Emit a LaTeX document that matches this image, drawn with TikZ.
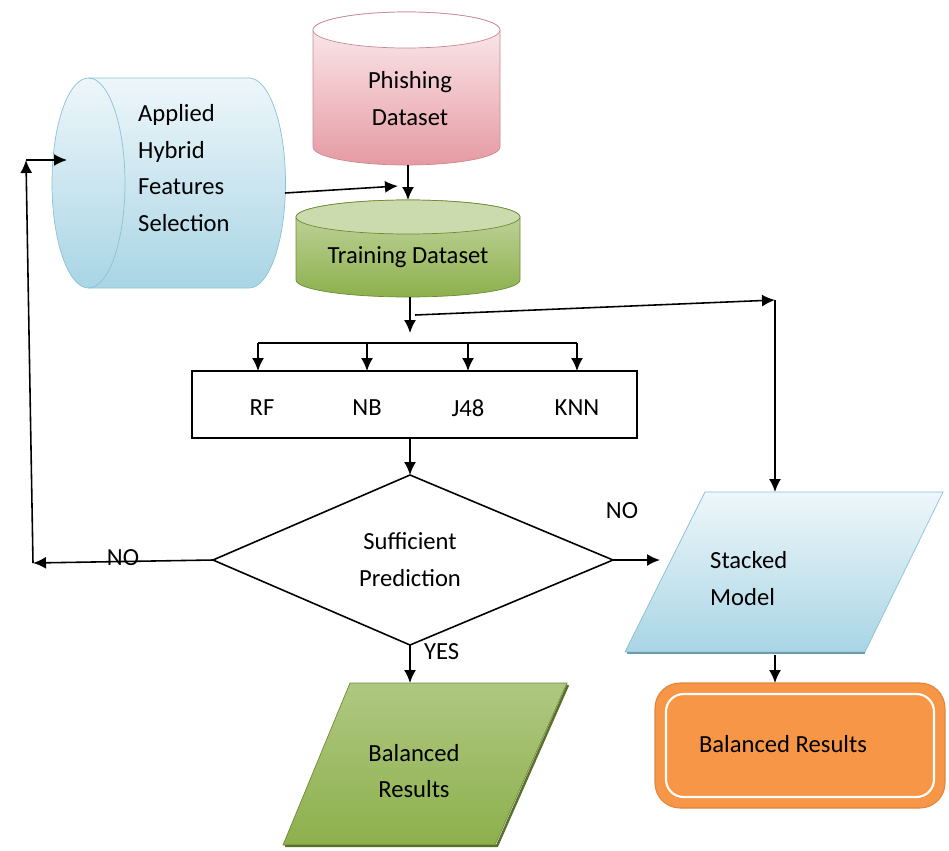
\documentclass[tikz,border=0pt]{standalone}
\usepackage{fontspec}
\setmainfont{Carlito}
\usepackage{tikz}
\usetikzlibrary{arrows.meta, positioning}

\definecolor{pinkfill}{HTML}{E69AA3}
\definecolor{pinkline}{HTML}{C98A92}
\definecolor{bluefill}{HTML}{A9D5E5}
\definecolor{blueline}{HTML}{8CC2D5}
\definecolor{greenfill}{HTML}{8DB04C}
\definecolor{greenline}{HTML}{6E8C36}
\definecolor{orangefill}{HTML}{F79646}

\tikzset{
    txt/.style={font=\fontsize{14}{17}\selectfont, align=center},
    arr/.style={-{Latex[length=2.6mm, width=2.4mm]}, line width=0.9pt},
    ln/.style={line width=0.9pt},
}

\begin{document}
\begin{tikzpicture}
    \useasboundingbox (0,0) rectangle (18.98,-17.02);

    % --- phishing dataset (upright drum) ---
    \shade[top color=pinkfill!15, bottom color=pinkfill, draw=pinkline]
        (6.26,-0.6) -- (6.26,-2.94) arc (180:360:1.87 and 0.36) -- (10.0,-0.6) arc (0:180:1.87 and 0.36) -- cycle;
    \draw[pinkline, fill=white] (8.13,-0.6) ellipse (1.87 and 0.36);
    \node[txt] (phish) at (8.2,-1.97) {Phishing\\[4pt]Dataset};

    % --- training dataset (upright drum) ---
    \shade[top color=greenfill!50, bottom color=greenfill, draw=greenline]
        (5.92,-4.34) -- (5.92,-5.6) arc (180:360:2.24 and 0.34) -- (10.4,-4.34) arc (0:180:2.24 and 0.34) -- cycle;
    \draw[greenline, fill=greenfill!45] (8.16,-4.34) ellipse (2.24 and 0.34);
    \node[txt] (train) at (8.16,-5.14) {Training Dataset};

    % --- feature selection (lying drum) ---
    \shade[top color=bluefill!20, bottom color=bluefill, draw=blueline]
        (1.77,-1.56) -- (4.98,-1.56) arc (90:-90:0.73 and 2.1) -- (1.77,-5.76) arc (270:90:0.73 and 2.1) -- cycle;
    \draw[blueline] (1.77,-1.56) arc (90:-90:0.73 and 2.1);
    \node[txt, align=left, anchor=west] (applied) at (2.64,-3.36)
          {Applied\\[4pt]Hybrid\\[4pt]Features\\[4pt]Selection};

    % --- base learners ---
    \node[draw, ln, minimum width=8.9cm, minimum height=1.34cm] (models) at (8.29,-8.09) {};
    \node[txt] (rf)  at (5.24,-8.16) {RF};
    \node[txt] (nb)  at (7.34,-8.16) {NB};
    \node[txt] (j48) at (9.36,-8.16) {J48};
    \node[txt] (knn) at (11.54,-8.16) {KNN};

    % --- decision ---
    \draw[ln, fill=white] (8.2,-9.5) -- (12.26,-11.2) -- (8.2,-12.9) -- (4.26,-11.2) -- cycle;
    \node[txt] (check) at (8.2,-11.2) {Sufficient\\[4pt]Prediction};

    % --- outputs ---
    \shade[top color=greenfill!70, bottom color=greenfill, draw=greenline]
        (7.0,-13.66) -- (11.34,-13.66) -- (9.9,-16.9) -- (5.66,-16.9) -- cycle;
    \draw[greenline!80!black, line width=1.4pt] (11.36,-13.7) -- (9.94,-16.92) -- (5.7,-16.92);
    \node[txt] (balA) at (8.28,-15.42) {Balanced\\[4pt]Results};

    \shade[top color=bluefill!20, bottom color=bluefill, draw=blueline]
        (14.1,-9.84) -- (18.86,-9.84) -- (17.3,-13.04) -- (12.5,-13.04) -- cycle;
    \draw[blueline!80!black, line width=1.2pt] (17.3,-13.06) -- (12.54,-13.06);
    \node[txt, align=left, anchor=west] (stacked) at (14.08,-11.57) {Stacked\\[4pt]Model};

    \draw[rounded corners=0.5cm, fill=orangefill, draw=orangefill!90!black, line width=0.6pt]
        (13.1,-13.66) rectangle (18.9,-16.16);
    \draw[rounded corners=0.35cm, draw=white, line width=1.2pt]
        (13.32,-13.88) rectangle (18.68,-15.94);
    \node[txt] (balB) at (15.66,-14.88) {Balanced Results};

    % --- junctions ---
    \coordinate (appliedR) at (5.7,-3.86);
    \coordinate (merge) at (7.96,-3.72);
    \coordinate (phishB) at (8.16,-3.3);
    \coordinate (trainT) at (8.16,-4.0);
    \coordinate (trainB) at (8.2,-5.94);
    \coordinate (fork) at (8.2,-6.66);
    \coordinate (split) at (8.3,-6.3);
    \coordinate (turn) at (15.5,-6.0);
    \coordinate (stackedT) at (15.5,-9.84);
    \coordinate (stackedL) at (13.2,-11.2);
    \coordinate (stackedB) at (15.5,-13.1);
    \coordinate (balBT) at (15.5,-13.66);
    \coordinate (modelsB) at (8.2,-8.76);
    \coordinate (checkT) at (8.2,-9.5);
    \coordinate (checkL) at (4.26,-11.2);
    \coordinate (checkR) at (12.26,-11.2);
    \coordinate (checkB) at (8.2,-12.9);
    \coordinate (balAT) at (8.2,-13.66);
    \coordinate (back) at (0.66,-11.26);
    \coordinate (up) at (0.52,-3.2);
    \coordinate (into) at (1.34,-3.2);

    % --- connectors ---
    \draw[arr] (appliedR) -- (merge);
    \draw[arr] (phishB) -- (trainT);
    \draw[arr] (trainB) -- (fork);
    \draw[ln] (5.16,-6.86) -- (11.54,-6.86);
    \foreach \x in {5.16,7.34,9.36,11.54}
        \draw[arr] (\x,-6.86) -- (\x,-7.42);
    \draw[arr] (split) -- (turn);
    \draw[arr] (turn) -- (stackedT);
    \draw[arr] (modelsB) -- (checkT);
    \draw[arr] (checkL) -- node[txt, pos=0.5, yshift=2pt] {NO} (back);
    \draw[arr] (back) -- (up);
    \draw[arr] (up) -- (into);
    \draw[arr] (checkR) -- (stackedL);
    \node[txt] at (12.44,-10.22) {NO};
    \draw[arr] (checkB) -- (balAT);
    \node[txt, anchor=west] at (8.36,-13.04) {YES};
    \draw[arr] (stackedB) -- (balBT);
\end{tikzpicture}
\end{document}
